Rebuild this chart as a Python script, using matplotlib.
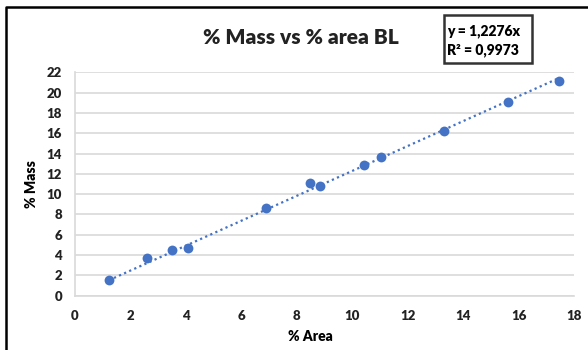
import matplotlib
matplotlib.use("Agg")
import matplotlib.pyplot as plt
import numpy as np
from matplotlib.patches import Rectangle

# data
area = [1.24, 2.60, 3.50, 4.10, 6.90, 8.49, 8.85, 10.44, 11.03, 13.33, 15.61, 17.46]
mass = [1.54, 3.67, 4.48, 4.65, 8.60, 11.1, 10.8, 12.9, 13.7, 16.2, 19.05, 21.1]
slope = 1.2276
x_ticks = [0, 2, 4, 6, 8, 10, 12, 14, 16, 18]
y_ticks = [0, 2, 4, 6, 8, 10, 12, 14, 16, 18, 20, 22]

plt.rcParams['font.family'] = ['Lato', 'DejaVu Sans']
blue = '#4472C4'
W = 'heavy'

fig = plt.figure(figsize=(5.88, 3.5), dpi=100)
ax = fig.add_axes([74.5 / 588, 1 - 295.7 / 350, (574 - 74.5) / 588, (295.7 - 72.3) / 350])

ax.scatter(area, mass, s=50, color=blue, zorder=3, linewidths=0)
xs = np.array([min(area), max(area)])
ax.plot(xs, slope * xs, linestyle=(0, (1, 1.5)), color=blue, linewidth=1.6, zorder=2)

ax.set_xlim(0, 18)
ax.set_ylim(0, 22)
ax.set_xticks(x_ticks)
ax.set_yticks(y_ticks)
ax.tick_params(length=0, labelsize=9.5, colors='#222222')
ax.tick_params(axis='x', pad=10)
ax.tick_params(axis='y', pad=9)
for lbl in ax.get_xticklabels() + ax.get_yticklabels():
    lbl.set_fontweight(W)
ax.grid(axis='y', color='#d9d9d9', linewidth=1.2)
ax.set_axisbelow(True)
for s in ['top', 'right']:
    ax.spines[s].set_visible(False)
for s in ['left', 'bottom']:
    ax.spines[s].set_color('#d9d9d9')
    ax.spines[s].set_linewidth(1.2)

ax.set_xlabel('% Area', fontsize=10, fontweight=W)
ax.set_ylabel('% Mass', fontsize=10, fontweight=W, labelpad=6)
ax.xaxis.set_label_coords((310 - 74.5) / (574 - 74.5), -(330 - 295.7) / (295.7 - 72.3))

fig.text(301 / 588, 1 - 37 / 350, '% Mass vs % area BL', fontsize=15, fontweight=W,
         ha='center', va='center', color='#222222')

# trendline equation box
fig.patches.append(Rectangle((444 / 588, 1 - 63 / 350), 88 / 588, 48 / 350,
                             transform=fig.transFigure, fill=False, edgecolor='#333333', linewidth=1.8))
fig.text(447 / 588, 1 - 31 / 350, 'y = 1,2276x', fontsize=10, fontweight=W, va='center', ha='left')
fig.text(447 / 588, 1 - 50 / 350, 'R² = 0,9973', fontsize=10, fontweight=W, va='center', ha='left')

# outer chart border
fig.add_artist(plt.Line2D([6 / 588, 6 / 588, 1.0], [0, 1 - 7 / 350, 1 - 7 / 350],
                          transform=fig.transFigure, color='black', linewidth=1.8))

fig.savefig('out.png', dpi=100)
